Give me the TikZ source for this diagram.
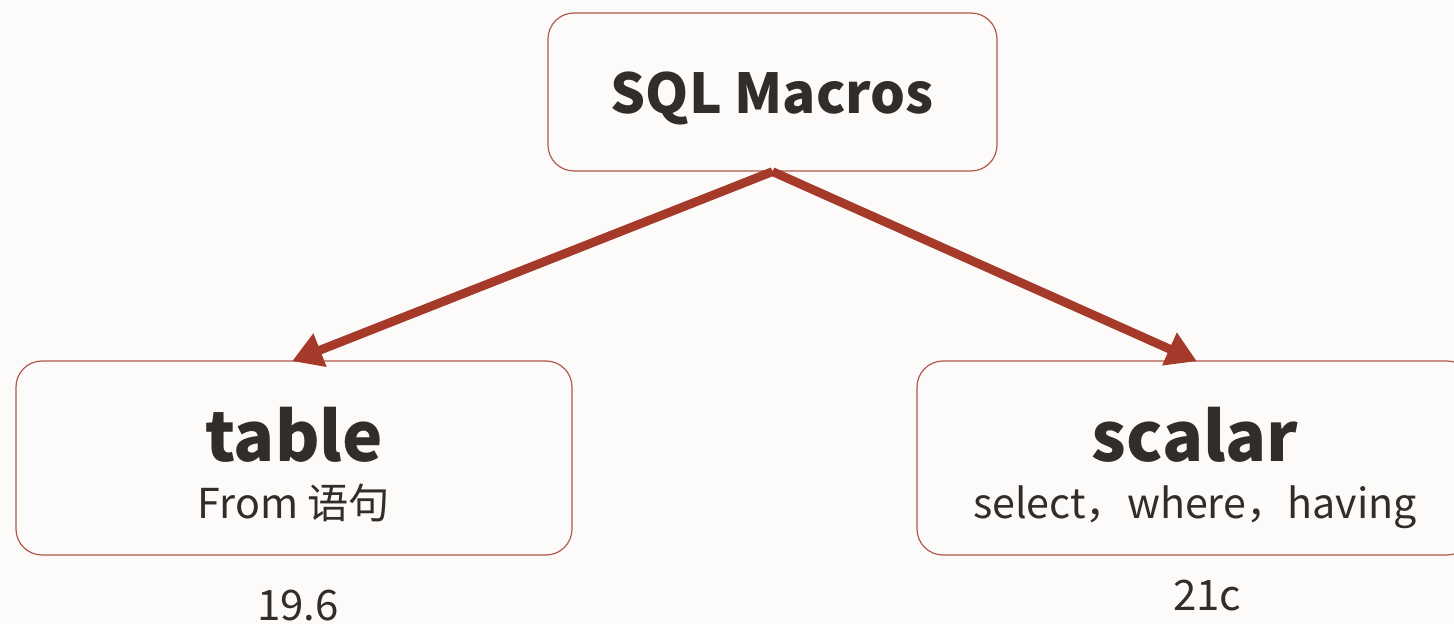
\documentclass[tikz,border=0pt]{standalone}
\usepackage{fontspec}
\usetikzlibrary{arrows.meta}
\newfontfamily\cjk{Noto Sans CJK SC}
\definecolor{bg}{HTML}{FCFBFA}
\definecolor{ink}{HTML}{312D2A}
\definecolor{rust}{HTML}{A53A2B}
\definecolor{edge}{HTML}{B0584C}
\tikzset{
  card/.style={draw=edge, line width=0.6pt, fill=bg, rounded corners=13pt, inner sep=0pt},
  title/.style={anchor=base, text=ink, font=\cjk\bfseries\fontsize{27.5}{33}\selectfont},
  head/.style={anchor=base, text=ink, font=\cjk\bfseries\fontsize{34}{41}\selectfont},
  sub/.style={anchor=base, text=ink, font=\cjk\fontsize{20.6}{25}\selectfont},
  ver/.style={anchor=base, text=ink, font=\cjk\fontsize{21}{26}\selectfont},
  link/.style={draw=rust, line width=4.4pt, -{Triangle[length=15pt, width=17pt]}, shorten >=-1pt}
}
\begin{document}
\begin{tikzpicture}[x=0.5pt, y=-0.5pt]
  \fill[bg] (0,0) rectangle (1454,624);
  \useasboundingbox (0,0) rectangle (1454,624);
  \begin{scope}
    \clip (0,0) rectangle (1454,624);
    % boxes
    \node[card, minimum width=224.5pt, minimum height=79pt] (top) at (772.5,92) {};
    \node[card, minimum width=278pt, minimum height=97pt] (tbl) at (294,458) {};
    \node[card, minimum width=278pt, minimum height=97pt] (scl) at (1195,458) {};
    % labels
    \node[title] (topl) at (772,114) {SQL Macros};
    \node[head] (tbll) at (294,461) {table};
    \node[sub] (tbls) at (294,518) {From 语句};
    \node[head] (scll) at (1195,461) {scalar};
    \node[sub] (scls) at (1195,518) {select，where，having};
    \node[ver] (tblv) at (298,620) {19.6};
    \node[ver] (sclv) at (1207,610) {21c};
    % connectors
    \draw[link] (top.south) -- (tbl.north);
    \draw[link] (top.south) -- (scl.north);
  \end{scope}
\end{tikzpicture}
\end{document}
